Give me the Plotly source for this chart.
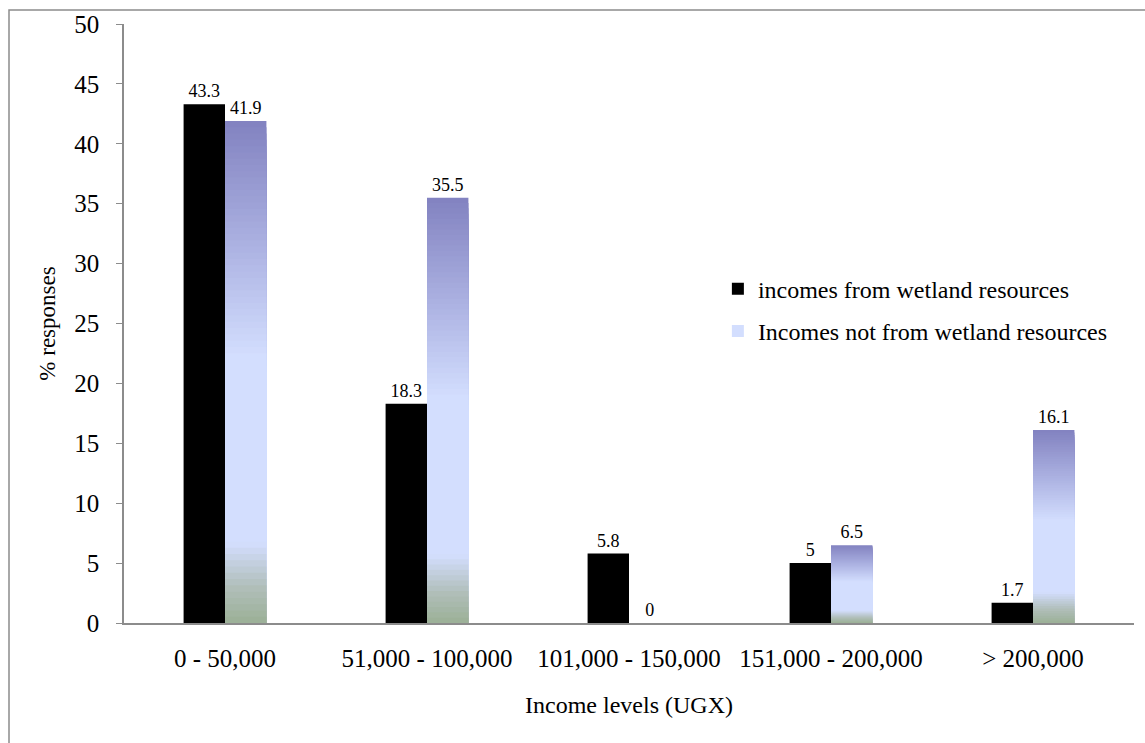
import plotly.graph_objects as go

categories = ["0 - 50,000", "51,000 - 100,000", "101,000 - 150,000", "151,000 - 200,000", "> 200,000"]
wetland = [43.3, 18.3, 5.8, 5, 1.7]
not_wetland = [41.9, 35.5, 0, 6.5, 16.1]
wetland_labels = ["43.3", "18.3", "5.8", "5", "1.7"]
not_wetland_labels = ["41.9", "35.5", "0", "6.5", "16.1"]

FONT = "Liberation Serif"

# gradient stops (fraction from bottom, rgb)
stops = [(0.0, (155, 176, 150)), (0.07, (176, 190, 185)), (0.16, (211, 222, 254)),
         (0.53, (211, 222, 254)), (0.75, (172, 178, 226)), (1.0, (130, 130, 192))]

def color_at(f):
    for (f0, c0), (f1, c1) in zip(stops[:-1], stops[1:]):
        if f0 <= f <= f1:
            t = (f - f0) / (f1 - f0) if f1 > f0 else 0
            c = [round(a + (b - a) * t) for a, b in zip(c0, c1)]
            return "rgb(%d,%d,%d)" % tuple(c)
    return "rgb(%d,%d,%d)" % stops[-1][1]

fig = go.Figure()
fig.add_trace(go.Bar(x=categories, y=wetland, name="incomes from wetland resources",
                     marker=dict(color="black", line=dict(width=0)), offsetgroup="a",
                     legendgroup="g1",
                     text=wetland_labels, textposition="outside",
                     textfont=dict(family=FONT, size=18, color="black"), cliponaxis=False))

N = 80
for k in range(N):
    frac = (N - k) / N
    fig.add_trace(go.Bar(x=categories, y=[v * frac for v in not_wetland],
                         marker=dict(color=color_at(frac - 0.5 / N), line=dict(width=0)),
                         offsetgroup="b", showlegend=(k == 45), legendgroup="g2",
                         name="Incomes not from wetland resources", hoverinfo="skip"))

fig.add_trace(go.Bar(x=categories, y=not_wetland, offsetgroup="b", showlegend=False,
                     legendgroup="g2",
                     marker=dict(color="rgba(0,0,0,0)", line=dict(width=0)),
                     text=not_wetland_labels, textposition="outside",
                     textfont=dict(family=FONT, size=18, color="black"), cliponaxis=False))

fig.update_layout(
    width=1145, height=743,
    margin=dict(l=124, r=11, t=24, b=120),
    barmode="group", bargap=0.59, bargroupgap=0,
    plot_bgcolor="white", paper_bgcolor="white",
    font=dict(family=FONT, color="black"),
    showlegend=True,
    legend=dict(x=0.588, y=0.595, xanchor="left", yanchor="top",
                font=dict(family=FONT, size=24), bgcolor="rgba(0,0,0,0)",
                traceorder="grouped", tracegroupgap=8, itemwidth=30),
    xaxis=dict(showline=True, linecolor="#8c8c8c", linewidth=1.5, ticks="",
               tickfont=dict(family=FONT, size=25), ticklabelstandoff=12,
               title=dict(text="Income levels (UGX)", font=dict(family=FONT, size=24), standoff=25)),
    yaxis=dict(range=[0, 50], dtick=5, showgrid=False, zeroline=False, showline=True,
               linecolor="#8c8c8c", linewidth=1.5, ticks="outside", ticklen=6,
               tickcolor="#8c8c8c", tickfont=dict(family=FONT, size=25), ticklabelstandoff=12,
               title=dict(text="% responses", font=dict(family=FONT, size=23), standoff=12)),
    shapes=[dict(type="rect", xref="paper", yref="paper",
                 x0=-115 / 1010, x1=1.05, y0=-0.3, y1=1 + 14 / 599,
                 line=dict(color="#8c8c8c", width=1.5), fillcolor="rgba(0,0,0,0)")],
)

fig.write_html("out.html")
